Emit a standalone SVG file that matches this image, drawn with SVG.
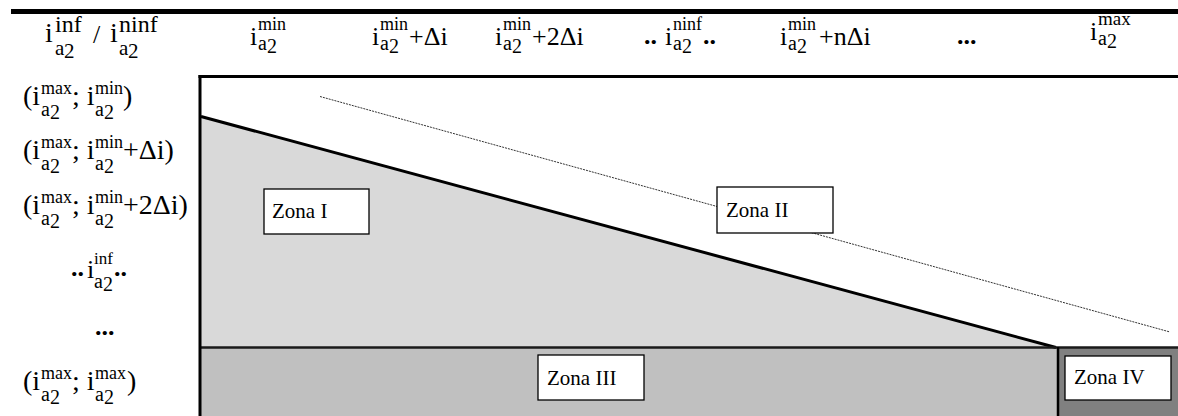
<svg xmlns="http://www.w3.org/2000/svg" width="1178" height="416" viewBox="0 0 1178 416" font-family="'Liberation Serif', 'Times New Roman', serif">
  <style>
    text { font-family: 'Liberation Serif', 'Times New Roman', serif; fill: #000; }
    .m { font-size: 26px; }
    .sp { font-size: 18px; }
    .sb { font-size: 20px; }
    .lm { font-size: 28px; }
    .lsp { font-size: 18px; }
    .lsb { font-size: 20px; }
    .dots { font-weight: bold; }
    .zone-box { fill: #fff; stroke: #000; stroke-width: 1.3; }
    .zone-label { font-size: 21px; }
  </style>

  <!-- top rule -->
  <rect x="11" y="9" width="1167" height="5" fill="#000"/>

  <!-- column headings -->
  <g id="headers">
    <text class="m"><tspan x="45" y="42" style="font-size:28px">i</tspan><tspan x="55" y="32" style="font-size:24px">inf</tspan><tspan x="55" y="55" style="font-size:21px">a</tspan><tspan x="64" y="58" style="font-size:21px">2</tspan><tspan x="93" y="43">/</tspan><tspan x="110" y="42" style="font-size:28px">i</tspan><tspan x="119" y="32" style="font-size:24px">ninf</tspan><tspan x="119" y="55" style="font-size:21px">a</tspan><tspan x="128" y="58" style="font-size:21px">2</tspan></text>
    <text class="m"><tspan x="250" y="45">i</tspan><tspan class="sp" x="258" y="30">min</tspan><tspan class="sb" x="258" y="50">a</tspan><tspan class="sb" x="267" y="53">2</tspan></text>
    <text class="m"><tspan x="372" y="45">i</tspan><tspan class="sp" x="380" y="30">min</tspan><tspan class="sb" x="380" y="50">a</tspan><tspan class="sb" x="389" y="53">2</tspan><tspan x="409" y="45">+Δi</tspan></text>
    <text class="m"><tspan x="495" y="45">i</tspan><tspan class="sp" x="503" y="30">min</tspan><tspan class="sb" x="503" y="50">a</tspan><tspan class="sb" x="512" y="53">2</tspan><tspan x="532" y="45">+2Δi</tspan></text>
    <text class="m"><tspan class="dots" x="644" y="44">..</tspan><tspan x="665" y="45">i</tspan><tspan class="sp" x="673" y="30">ninf</tspan><tspan class="sb" x="673" y="50">a</tspan><tspan class="sb" x="682" y="53">2</tspan><tspan class="dots" x="703" y="44">..</tspan></text>
    <text class="m"><tspan x="780" y="45">i</tspan><tspan class="sp" x="788" y="30">min</tspan><tspan class="sb" x="788" y="50">a</tspan><tspan class="sb" x="797" y="53">2</tspan><tspan x="819" y="45">+nΔi</tspan></text>
    <text class="m dots" x="957" y="44">...</text>
    <text class="m"><tspan x="1090" y="40">i</tspan><tspan class="sp" x="1098" y="25" style="font-size:19px">max</tspan><tspan class="sb" x="1098" y="45">a</tspan><tspan class="sb" x="1107" y="48">2</tspan></text>
  </g>

  <!-- row headings -->
  <g id="rows">
    <text class="lm"><tspan x="23" y="105">(i</tspan><tspan class="lsp" x="41" y="94">max</tspan><tspan class="lsb" x="41" y="116">a</tspan><tspan class="lsb" x="50" y="119">2</tspan><tspan x="72" y="105">; i</tspan><tspan class="lsp" x="95" y="94">min</tspan><tspan class="lsb" x="95" y="116">a</tspan><tspan class="lsb" x="104" y="119">2</tspan><tspan x="123" y="105">)</tspan></text>
    <text class="lm"><tspan x="23" y="159">(i</tspan><tspan class="lsp" x="41" y="148">max</tspan><tspan class="lsb" x="41" y="170">a</tspan><tspan class="lsb" x="50" y="173">2</tspan><tspan x="72" y="159">; i</tspan><tspan class="lsp" x="95" y="148">min</tspan><tspan class="lsb" x="95" y="170">a</tspan><tspan class="lsb" x="104" y="173">2</tspan><tspan x="123" y="159">+Δi)</tspan></text>
    <text class="lm"><tspan x="23" y="214">(i</tspan><tspan class="lsp" x="41" y="203">max</tspan><tspan class="lsb" x="41" y="225">a</tspan><tspan class="lsb" x="50" y="228">2</tspan><tspan x="72" y="214">; i</tspan><tspan class="lsp" x="95" y="203">min</tspan><tspan class="lsb" x="95" y="225">a</tspan><tspan class="lsb" x="104" y="228">2</tspan><tspan x="123" y="214">+2Δi)</tspan></text>
    <text class="m"><tspan class="dots" x="71" y="276">..</tspan><tspan x="87" y="278">i</tspan><tspan x="94" y="264" style="font-size:17px">inf</tspan><tspan class="lsb" x="94" y="288">a</tspan><tspan class="lsb" x="103" y="291">2</tspan><tspan class="dots" x="114" y="276">..</tspan></text>
    <text class="m dots" x="95" y="335">...</text>
    <text class="lm"><tspan x="23" y="390">(i</tspan><tspan class="lsp" x="41" y="379">max</tspan><tspan class="lsb" x="41" y="401">a</tspan><tspan class="lsb" x="50" y="404">2</tspan><tspan x="72" y="390">; i</tspan><tspan class="lsp" x="95" y="379">max</tspan><tspan class="lsb" x="95" y="401">a</tspan><tspan class="lsb" x="104" y="404">2</tspan><tspan x="127" y="390">)</tspan></text>
  </g>

  <!-- zone areas -->
  <g id="areas">
    <polygon points="201,116.5 1056,347 201,347" fill="#d9d9d9"/>
    <rect x="201" y="347" width="857" height="69" fill="#c0c0c0"/>
    <rect x="1058" y="347" width="120" height="69" fill="#808080"/>
  </g>

  <!-- boundaries between zones -->
  <g id="connectors" fill="none" stroke="#000">
    <line x1="320" y1="96.5" x2="1170" y2="332" stroke="#333" stroke-width="1" stroke-dasharray="2 1"/>
    <line x1="201" y1="116.5" x2="1056" y2="347.5" stroke-width="3"/>
    <line x1="200" y1="347.5" x2="1178" y2="347.5" stroke="#1a1a1a" stroke-width="2.5"/>
    <line x1="1058" y1="347" x2="1058" y2="416" stroke-width="2.5"/>
    <line x1="198.5" y1="76.5" x2="1178" y2="76.5" stroke-width="3"/>
    <line x1="200" y1="75" x2="200" y2="416" stroke-width="3"/>
  </g>

  <g id="zona-1">
    <rect class="zone-box" x="264" y="189" width="105" height="45"/>
    <text class="zone-label" x="272" y="218">Zona I</text>
  </g>
  <g id="zona-2">
    <rect class="zone-box" x="717" y="187" width="116" height="46"/>
    <text class="zone-label" x="726" y="217">Zona II</text>
  </g>
  <g id="zona-3">
    <rect class="zone-box" x="538" y="355" width="106" height="45"/>
    <text class="zone-label" x="547" y="385">Zona III</text>
  </g>
  <g id="zona-4">
    <rect class="zone-box" x="1065" y="356" width="106" height="44"/>
    <text class="zone-label" x="1074" y="384">Zona IV</text>
  </g>
</svg>
